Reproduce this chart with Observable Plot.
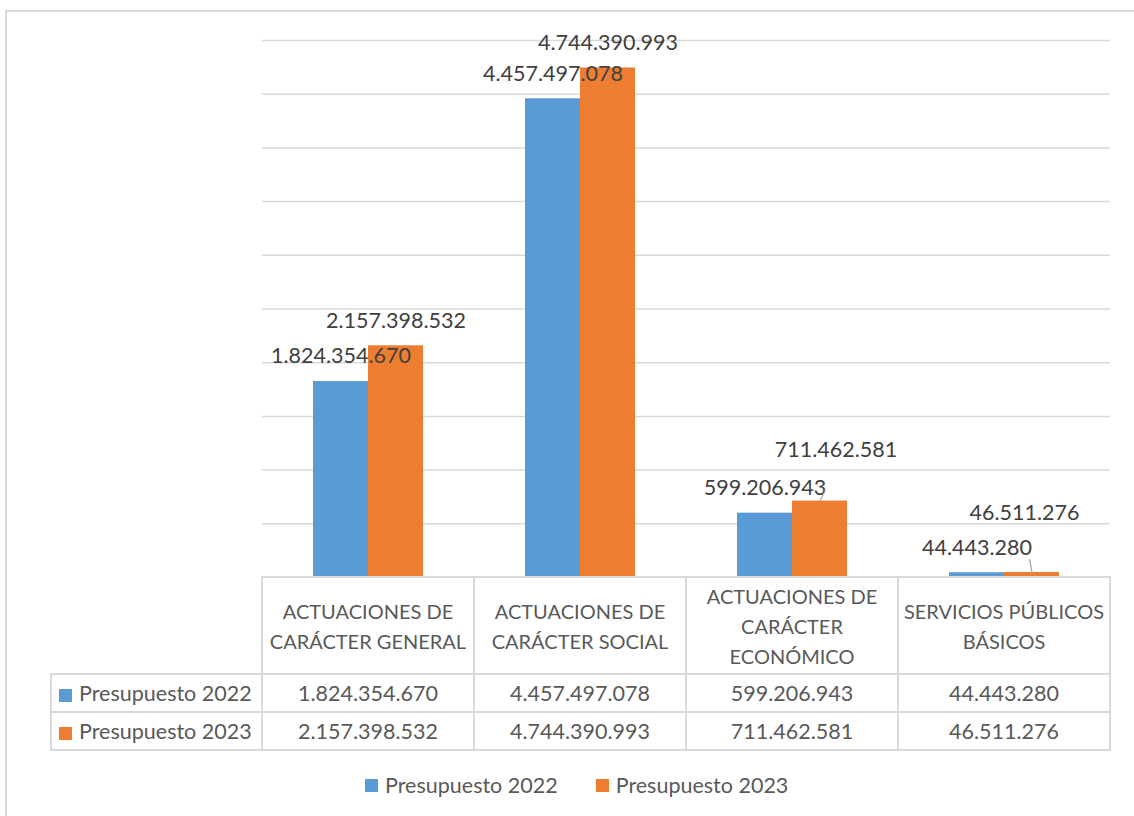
<!DOCTYPE html>
<html>
<head>
<meta charset="utf-8">
<script src="https://cdn.jsdelivr.net/npm/d3@7"></script>
<script src="https://cdn.jsdelivr.net/npm/@observablehq/plot@0.6"></script>
<style>
  html, body { margin: 0; padding: 0; background: #fff; }
  body { width: 1134px; height: 816px; overflow: hidden; position: relative; font-family: Lato, "Open Sans", sans-serif; }
  #frame { position: absolute; left: 5px; top: 10px; width: 1300px; height: 1000px; border: 2px solid #d9d9d9; box-sizing: border-box; }
  #chart { position: absolute; left: 0; top: 0; }
  #chart svg { overflow: visible; }
  #table { position: absolute; left: 50px; top: 576px; border-collapse: collapse; table-layout: fixed; color: #595959; font-size: 21.5px; }
  #table th, #table td { border: 2px solid #d9d9d9; padding: 0; text-align: center; font-weight: normal; white-space: nowrap; }
  #table th { height: 95px; line-height: 30px; font-size: 20px; }
  #table td { height: 36px; line-height: 34px; }
  #table td.blank { border: none; }
  #table td.lab { text-align: left; padding-left: 7px; }
  .sw { display: inline-block; width: 13px; height: 13px; margin-right: 7px; vertical-align: -1px; }
  #legend { position: absolute; left: 365px; top: 771px; display: flex; align-items: center; color: #595959; font-size: 21.5px; line-height: 28px; }
  #legend .item { display: flex; align-items: center; margin-right: 38px; }
  #legend .item .sw { margin-right: 7px; }
</style>
</head>
<body>
<div id="frame"></div>
<div id="chart"></div>
<table id="table"></table>
<div id="legend"></div>
<script>
// ---- data ----
const categories = [
  "ACTUACIONES DE CARÁCTER GENERAL",
  "ACTUACIONES DE CARÁCTER SOCIAL",
  "ACTUACIONES DE CARÁCTER ECONÓMICO",
  "SERVICIOS PÚBLICOS BÁSICOS"
];
const categoryLabels = [
  "ACTUACIONES DE\nCARÁCTER GENERAL",
  "ACTUACIONES DE\nCARÁCTER SOCIAL",
  "ACTUACIONES DE\nCARÁCTER\nECONÓMICO",
  "SERVICIOS PÚBLICOS\nBÁSICOS"
];
const series = ["Presupuesto 2022", "Presupuesto 2023"];
const values2022 = [1824354670, 4457497078, 599206943, 44443280];
const values2023 = [2157398532, 4744390993, 711462581, 46511276];
const yMax = 5000000000;
const yStep = 500000000;

// ---- style / layout ----
const colors = ["#5B9BD5", "#ED7D31"];
const gridColor = "#d9d9d9";
const labelColor = "#404040";
// manually moved data labels (pixel nudges from the bar top), with leader lines
const labelNudge = {
  "ACTUACIONES DE CARÁCTER ECONÓMICO|Presupuesto 2023": [16, -51],
  "SERVICIOS PÚBLICOS BÁSICOS|Presupuesto 2023": [-7.5, -59]
};

const locale = d3.formatLocale({decimal: ",", thousands: ".", grouping: [3], currency: ["", " €"]});
const fmt = locale.format(",d");

const valuesBySeries = [values2022, values2023];
const rows = categories.flatMap((c, i) => series.map((s, si) => ({category: c, series: s, value: valuesBySeries[si][i]})));
const key = d => d.category + "|" + d.series;
const yTicks = d3.range(yStep, yMax + 1, yStep);

const nudgedMarks = [];
for (const d of rows) {
  const n = labelNudge[key(d)];
  if (!n) continue;
  const [ndx, ndy] = n;
  const ex = ndx, ey = ndy + 18;
  nudgedMarks.push(
    Plot.vector([d], {
      fx: "category", x: "series", y: "value",
      length: () => Math.hypot(ex, ey),
      rotate: () => Math.atan2(ex, -ey) * 180 / Math.PI,
      anchor: "start", r: 0, stroke: "#a6a6a6", strokeWidth: 1.3
    }),
    Plot.text([d], {
      fx: "category", x: "series", y: "value",
      text: d => fmt(d.value), dx: ndx, dy: ndy, fill: labelColor
    })
  );
}

const chart = Plot.plot({
  width: 1134,
  height: 578,
  marginTop: 40,
  marginBottom: 1,
  marginLeft: 262,
  marginRight: 24,
  style: {fontFamily: "Lato, 'Open Sans', sans-serif", fontSize: "21.5px", background: "transparent", overflow: "visible"},
  fx: {domain: categories, padding: 0, axis: null},
  x: {domain: series, paddingInner: 0, paddingOuter: 0.927, axis: null},
  y: {domain: [0, yMax], axis: null},
  color: {domain: series, range: colors},
  marks: [
    Plot.ruleY(yTicks, {stroke: gridColor, strokeWidth: 1.5}),
    Plot.barY(rows, {fx: "category", x: "series", y: "value", fill: "series"}),
    Plot.text(rows.filter(d => !labelNudge[key(d)]), {
      fx: "category", x: "series", y: "value",
      text: d => fmt(d.value), dy: -25, fill: labelColor
    }),
    ...nudgedMarks
  ]
});
document.getElementById("chart").appendChild(chart);

// ---- data table ----
const colWidths = [211, 212, 212, 212, 212];
let html = "<colgroup>" + colWidths.map(w => `<col style="width:${w}px">`).join("") + "</colgroup>";
html += '<tr><td class="blank"></td>' + categoryLabels.map(l => `<th>${l.replace(/\n/g, "<br>")}</th>`).join("") + "</tr>";
series.forEach((s, si) => {
  html += `<tr><td class="lab"><span class="sw" style="background:${colors[si]}"></span>${s}</td>` +
    valuesBySeries[si].map(v => `<td>${fmt(v)}</td>`).join("") + "</tr>";
});
document.getElementById("table").innerHTML = html;

// ---- legend ----
document.getElementById("legend").innerHTML = series.map((s, si) =>
  `<div class="item"><span class="sw" style="background:${colors[si]}"></span>${s}</div>`).join("");
</script>
</body>
</html>
